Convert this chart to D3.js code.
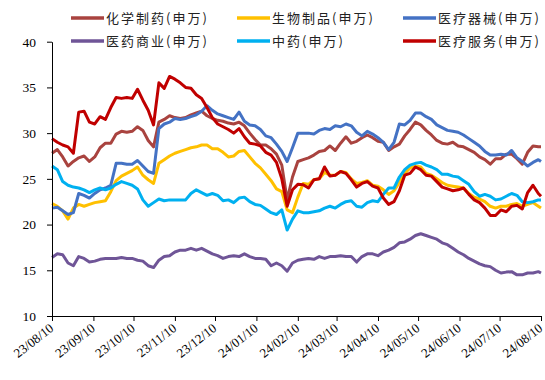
<!DOCTYPE html>
<html>
<head>
<meta charset="utf-8">
<script src="https://cdn.jsdelivr.net/npm/d3@7/dist/d3.min.js"></script>
<style>
  html, body { margin: 0; padding: 0; background: #fff; }
  svg { display: block; }
  .tick text { font-family: "Liberation Serif", "Times New Roman", serif; fill: #000; }
  .legend text { font-family: "Noto Sans CJK SC", sans-serif; font-size: 13px; letter-spacing: 2px; fill: #222; }
</style>
</head>
<body>
<svg id="chart" width="545" height="380"></svg>
<script>
// Sampling grid: every 4 calendar days from 2023-08-10, closing on 2024-08-10
const startDate = new Date(2023, 7, 10);
const endDate = new Date(2024, 7, 10);
const stepDays = 4;
const sampleCount = 92;

// Month ticks on the 10th
const tickDates = d3.range(13).map(m => new Date(2023, 7 + m, 10));
const yTicks = [10, 15, 20, 25, 30, 35, 40];

const seriesNames = ["化学制药(申万)", "生物制品(申万)", "医疗器械(申万)", "医药商业(申万)", "中药(申万)", "医疗服务(申万)"];

// PE (TTM) by sector
const chemPharma = [27.8,28.2,27.4,26.4,26.9,27.3,27.5,26.9,27.4,28.4,28.9,28.9,29.9,30.2,30.1,30.2,30.7,30.3,29.2,28.5,
  31.2,31.5,31.9,31.7,31.6,31.7,32.0,32.2,32.4,31.9,31.6,31.4,31.3,31.1,31.0,31.2,30.8,30.0,29.3,28.7,
  28.7,28.3,27.7,26.5,22.7,25.2,26.9,27.1,27.3,27.6,28.0,28.1,28.6,28.1,28.9,29.6,28.9,29.1,29.5,29.8,
  29.5,29.1,29.0,28.1,28.5,28.8,29.7,30.4,31.2,30.9,30.3,29.8,29.2,28.9,28.8,29.0,28.6,28.5,28.2,27.9,
  27.4,27.1,26.6,27.2,27.2,27.7,27.7,27.2,26.6,27.9,28.6,28.5,28.5];
const biologics = [22.3,22.0,21.5,20.6,21.8,22.2,22.0,22.2,22.4,22.5,22.6,23.6,24.8,25.3,25.6,25.9,26.3,25.4,24.9,24.5,
  26.7,27.1,27.5,27.8,28.0,28.2,28.4,28.5,28.7,28.7,28.3,28.3,27.9,27.4,27.5,28.0,28.1,27.4,26.7,26.2,
  25.5,24.8,23.9,23.6,21.6,21.3,23.0,24.5,24.4,24.9,25.0,25.7,25.4,25.4,25.8,25.7,25.0,24.5,24.6,24.8,
  24.3,24.2,23.8,23.3,23.7,24.6,25.6,26.2,26.4,26.3,25.6,25.4,25.0,24.6,24.3,24.2,24.1,24.0,23.4,23.0,
  22.8,22.5,22.0,21.8,22.0,22.0,22.2,22.3,22.0,22.2,22.4,22.0,21.8];
const medDevices = [21.8,21.9,21.5,21.1,21.3,23.4,23.2,22.9,23.4,23.8,24.0,24.3,26.7,26.7,26.6,26.6,27.0,26.4,25.8,25.6,
  30.5,31.0,31.2,31.6,31.5,31.6,31.8,32.0,32.4,33.0,32.5,32.1,31.9,31.7,31.5,32.3,31.3,30.9,30.8,30.4,
  29.7,29.5,28.8,28.0,26.9,28.4,30.0,30.0,30.0,29.9,30.3,30.5,30.4,30.8,30.7,31.0,30.8,30.1,29.7,30.2,
  29.9,29.5,29.0,28.2,29.0,31.0,30.9,31.4,32.2,32.2,31.8,31.5,30.9,30.6,30.3,30.2,30.1,29.8,29.4,29.0,
  28.6,28.0,27.6,27.6,27.7,27.6,28.1,27.3,26.9,26.4,26.8,27.1,26.9];
const pharmaCommerce = [16.4,16.8,16.7,15.8,15.5,16.5,16.3,15.9,16.0,16.2,16.3,16.3,16.3,16.4,16.3,16.3,16.1,16.0,15.5,15.3,
  16.1,16.5,16.6,17.0,17.2,17.2,17.4,17.2,17.4,17.1,16.8,16.6,16.3,16.5,16.6,16.5,16.8,16.5,16.3,16.3,
  16.2,15.5,15.8,15.5,14.9,15.8,16.1,16.2,16.3,16.2,16.5,16.3,16.5,16.5,16.6,16.5,16.5,15.9,16.5,16.8,
  16.8,16.6,17.0,17.2,17.5,18.0,18.1,18.4,18.8,19.0,18.8,18.6,18.4,18.0,17.8,17.4,17.0,16.7,16.3,16.0,
  15.7,15.5,15.4,15.0,14.7,14.8,14.85,14.5,14.5,14.7,14.7,14.85,14.7];
const tcm = [26.4,26.0,24.7,24.3,24.1,24.0,23.8,23.5,23.8,24.0,23.8,24.0,24.4,24.7,24.5,24.3,23.9,22.7,22.0,22.4,
  22.8,22.6,22.7,22.7,22.7,22.7,23.4,23.8,23.5,23.2,23.4,23.2,22.6,22.7,22.4,22.9,23.0,22.5,22.2,22.1,
  21.7,21.3,21.1,21.6,19.4,20.6,21.5,21.3,21.3,21.4,21.5,21.8,22.0,21.8,22.2,22.5,22.6,22.0,21.9,22.4,
  22.6,22.5,23.3,24.0,24.0,25.2,26.0,26.5,26.7,26.8,26.5,26.3,26.0,25.5,25.5,25.3,25.2,24.8,24.4,23.6,
  23.1,23.3,23.1,22.7,22.8,23.1,23.4,23.2,22.5,22.4,22.5,22.7,22.7];
const medServices = [29.4,29.0,28.7,28.5,27.8,32.3,32.4,31.2,31.0,31.8,31.5,32.8,33.9,33.8,33.9,33.8,34.8,33.6,32.5,30.9,
  35.5,34.9,36.2,35.9,35.5,35.0,34.9,34.2,33.8,32.8,31.7,31.0,30.7,30.4,30.0,30.5,29.6,28.9,28.8,28.6,
  27.9,27.6,26.8,25.0,22.0,23.8,24.4,24.35,24.0,24.9,25.0,26.3,25.3,25.4,25.8,25.6,24.9,24.1,24.5,24.7,
  24.2,24.0,22.9,22.2,22.5,23.7,25.4,25.6,26.3,26.0,25.4,25.3,24.7,24.1,23.9,23.7,23.8,24.0,23.3,22.7,
  22.4,21.8,21.0,21.0,21.6,21.4,22.0,22.1,21.7,23.5,24.3,23.4,23.1];

const colors = ["#A9433F", "#FFC000", "#4472C4", "#6F5597", "#00B0F0", "#C00000"];
const seriesValues = [chemPharma, biologics, medDevices, pharmaCommerce, tcm, medServices];

const dates = d3.range(sampleCount).map(i => d3.timeDay.offset(startDate, i * stepDays));
dates.push(endDate);

const svg = d3.select("#chart");
const margin = { left: 52, right: 4, top: 41.7, bottom: 64 };
const width = 545, height = 380;

const x = d3.scaleTime().domain([startDate, endDate]).range([margin.left, width - margin.right]);
const y = d3.scaleLinear().domain([10, 40]).range([height - margin.bottom, margin.top]);

// Series lines
const line = d3.line().x((d, i) => x(dates[i])).y(d => y(d));
svg.append("g").selectAll("path")
  .data(seriesValues)
  .join("path")
  .attr("d", d => line(d))
  .attr("fill", "none")
  .attr("stroke", (d, i) => colors[i])
  .attr("stroke-width", 3)
  .attr("stroke-linejoin", "round");

// Y axis
const yAxis = svg.append("g")
  .attr("transform", `translate(${margin.left},0)`)
  .call(d3.axisLeft(y).tickValues(yTicks).tickSize(5).tickPadding(11).tickSizeOuter(0));
yAxis.selectAll("text").attr("font-size", 13.5);

// X axis, labels slanted up to the right and ending at their tick
const xAxis = svg.append("g")
  .attr("transform", `translate(0,${height - margin.bottom})`)
  .call(d3.axisBottom(x).tickValues(tickDates).tickFormat(d3.timeFormat("%y/%m/%d")).tickSize(5).tickSizeOuter(0));
xAxis.selectAll("text")
  .attr("font-size", 13)
  .attr("text-anchor", "end")
  .attr("x", 0)
  .attr("y", 0)
  .attr("dy", "0.75em")
  .attr("transform", "translate(-4,6) rotate(-38)");
svg.selectAll(".domain").attr("stroke", "#000");
svg.selectAll(".tick line").attr("stroke", "#000");

// Legend: three columns, two rows
const legendCols = [71, 237, 403];
const legendRows = [18, 41];
const legend = svg.append("g").attr("class", "legend");
seriesNames.forEach((name, i) => {
  const cx = legendCols[i % 3], cy = legendRows[Math.floor(i / 3)];
  legend.append("line")
    .attr("x1", cx).attr("x2", cx + 33)
    .attr("y1", cy).attr("y2", cy)
    .attr("stroke", colors[i]).attr("stroke-width", 3.5);
  legend.append("text")
    .attr("x", cx + 35).attr("y", cy)
    .attr("dy", "0.36em")
    .text(name);
});
</script>
</body>
</html>
